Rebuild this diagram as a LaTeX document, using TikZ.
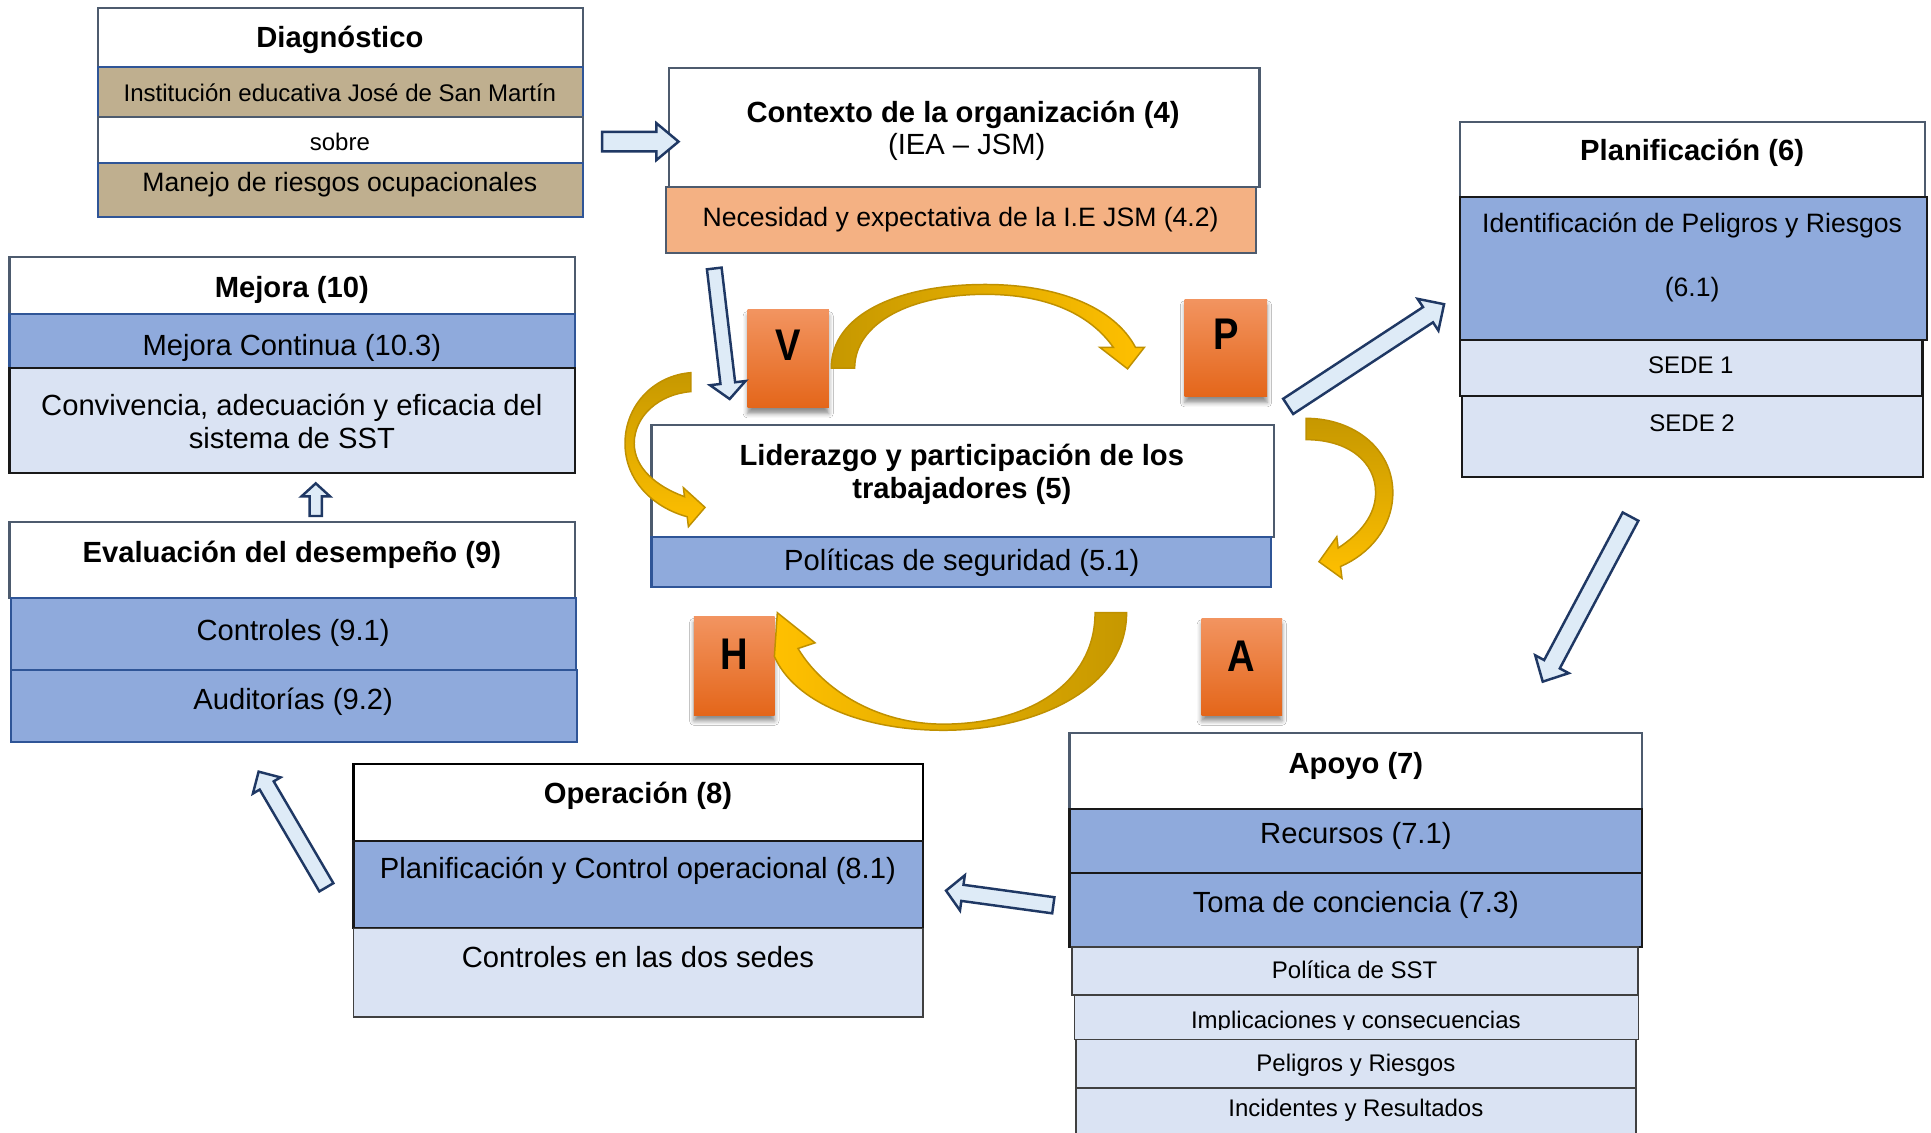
\documentclass[tikz,border=0pt]{standalone}
\usepackage{fontspec}
\usepackage{graphicx}
\setmainfont{Liberation Sans}
\usetikzlibrary{calc,shadows.blur}
\definecolor{slate}{HTML}{4D5B6E}
\definecolor{bluef}{HTML}{8FAADC}
\definecolor{blued}{HTML}{2F5597}
\definecolor{lightf}{HTML}{DAE3F3}
\definecolor{tanf}{HTML}{BFAF8F}
\definecolor{orgf}{HTML}{F4B183}
\definecolor{navy}{HTML}{1F3864}
\definecolor{arrf}{HTML}{DEEBF7}
\definecolor{goldD}{HTML}{C69800}
\definecolor{goldL}{HTML}{FFC000}
\definecolor{goldE}{HTML}{BF9000}
\definecolor{orgT}{HTML}{F29460}
\definecolor{orgB}{HTML}{E4661A}
\tikzset{
 cell/.style={rectangle, inner sep=0pt, outer sep=0pt, line width=0.9pt},
 titlecell/.style={cell, draw=slate, fill=white},
 titleblk/.style={cell, draw=black, fill=white},
 tancell/.style={cell, draw=blued, fill=tanf},
 orgcell/.style={cell, draw=slate, fill=orgf},
 bluecell/.style={cell, draw=blued, fill=bluef},
 blueblk/.style={cell, draw=black!90, fill=bluef},
 lightblk/.style={cell, draw=black!90, fill=lightf},
 lightthin/.style={cell, draw=black!75, fill=lightf, line width=0.65pt},
 big/.style={inner sep=0pt, font=\fontsize{11.85}{14}\selectfont, text height=8.5pt, text depth=0pt},
 bigb/.style={inner sep=0pt, font=\fontsize{11.85}{14}\selectfont\bfseries, text height=8.5pt, text depth=0pt},
 med/.style={inner sep=0pt, font=\fontsize{10.8}{13}\selectfont, text height=7.8pt, text depth=0pt},
 small/.style={inner sep=0pt, font=\fontsize{9.75}{12}\selectfont, text height=7pt, text depth=0pt},
 letter/.style={inner sep=0pt, font=\fontsize{18}{20}\selectfont\bfseries, text height=13pt, text depth=0pt},
 pdca/.style={rectangle, inner sep=0pt, outer sep=0pt, top color=orgT, bottom color=orgB,
   blur shadow={shadow xshift=0pt, shadow yshift=-2.4pt, shadow blur radius=1.8pt, shadow opacity=45}},
 blockarr/.style={draw=navy, fill=arrf, line width=1pt, line join=miter},
 goldarr/.style={draw=goldE, line width=0.6pt, line join=miter},
}
\newcommand{\cellbox}[6]{%
 \pgfmathsetmacro{\cellW}{(#5-#3)*0.5}%
 \pgfmathsetmacro{\cellH}{(#6-#4)*0.5}%
 \node[#2, minimum width=\cellW pt, minimum height=\cellH pt] (#1) at ({(#3+#5)/2},{(#4+#6)/2}) {};}
\newcommand{\blockarrow}[5]{%
 \coordinate (hb) at ($(#2)!#5!(#1)$);
 \draw[blockarr] ($(#1)!#3!90:(#2)$) -- ($(hb)!#3!-90:(#1)$) -- ($(hb)!#4!-90:(#1)$) -- (#2)
   -- ($(hb)!#4!90:(#1)$) -- ($(hb)!#3!90:(#1)$) -- ($(#1)!#3!-90:(#2)$) -- cycle;}
\begin{document}
\begin{tikzpicture}[x=0.5pt,y=-0.5pt]
\useasboundingbox (0,0) rectangle (1568,920);
\fill[white] (0,0) rectangle (1568,920);

% Diagnostico
\cellbox{diagT}{titlecell}{79.3}{6.8}{473.4}{54.7}
\cellbox{diagA}{tancell}{79.3}{54.7}{473.4}{94.7}
\cellbox{diagB}{titlecell}{79.3}{94.7}{473.4}{132.6}
\cellbox{diagC}{tancell}{79.3}{132.6}{473.4}{176.5}
\node[bigb] (tDiag) at (276,29.8) {Diagnóstico};
\node[small] (tIE) at (276,75.8) {Institución educativa José de San Martín};
\node[small] (tSobre) at (276,115) {sobre};
\node[med] (tMan) at (276,147.5) {Manejo de riesgos ocupacionales};

% Contexto
\cellbox{ctxT}{titlecell}{543}{55.5}{1022.7}{151.6}
\cellbox{ctxA}{orgcell}{540.6}{151.6}{1020}{205.2}
\node[bigb] (tCtx) at (782,90.7) {Contexto de la organización (4)};
\node[big] (tIEA) at (785,117) {(IEA – JSM)};
\node[med] (tNec) at (780,176.3) {Necesidad y expectativa de la I.E JSM (4.2)};

% Planificacion
\cellbox{plaT}{titlecell}{1185.5}{98.8}{1563}{159.7}
\cellbox{plaA}{blueblk}{1185.5}{159.7}{1564.5}{276}
\cellbox{plaB}{lightblk}{1185.5}{276}{1561}{321.6}
\cellbox{plaC}{lightblk}{1187}{321.6}{1561.7}{387.6}
\node[bigb] (tPlan) at (1374,121.8) {Planificación (6)};
\node[med] (tIdent) at (1374,181.3) {Identificación de Peligros y Riesgos};
\node[med] (tIdent2) at (1374,233) {(6.1)};
\node[small] (tS1) at (1373,296.4) {SEDE 1};
\node[small] (tS2) at (1374,343.7) {SEDE 2};

% Mejora
\cellbox{mejT}{titlecell}{7.8}{208.4}{466.8}{255}
\cellbox{mejA}{bluecell}{7.8}{255}{466.8}{299}
\cellbox{mejB}{lightblk}{7.8}{299}{466.8}{383.8}
\node[bigb] (tMej) at (237,232.8) {Mejora (10)};
\node[big] (tMC) at (237,280.5) {Mejora Continua (10.3)};
\node[big] (tConv1) at (237,328.9) {Convivencia, adecuación y eficacia del};
\node[big] (tConv2) at (237,356) {sistema de SST};

% Evaluacion
\cellbox{evaT}{titlecell}{7.8}{423.6}{466.8}{485.8}
\cellbox{evaA}{bluecell}{8.7}{485.8}{467.7}{544}
\cellbox{evaB}{bluecell}{8.7}{544}{468.6}{602.3}
\node[bigb] (tEval) at (237,448) {Evaluación del desempeño (9)};
\node[big] (tCtrl) at (238,511.6) {Controles (9.1)};
\node[big] (tAud) at (238,567.5) {Auditorías (9.2)};

% Liderazgo
\cellbox{lidT}{titlecell}{529}{345}{1034.5}{435.8}
\cellbox{lidA}{bluecell}{529}{435.8}{1032}{476.4}
\node[bigb] (tLid1) at (781,369.5) {Liderazgo y participación de los};
\node[bigb] (tLid2) at (781,396.5) {trabajadores (5)};
\node[big] (tPol) at (781,454.7) {Políticas de seguridad (5.1)};

% Operacion
\cellbox{opeT}{titleblk}{287}{620.4}{749.3}{682.6}
\cellbox{opeA}{blueblk}{287}{682.6}{749.3}{753.8}
\cellbox{opeB}{lightthin}{287}{753.8}{749.3}{825.6}
\node[bigb] (tOp) at (518,644.2) {Operación (8)};
\node[big] (tPC) at (518,705) {Planificación y Control operacional (8.1)};
\node[big] (tCds) at (518,776.8) {Controles en las dos sedes};

% Apoyo
\cellbox{apoT}{titlecell}{868.5}{595.5}{1333}{657.2}
\cellbox{apoA}{blueblk}{868.5}{657.2}{1333}{708.6}
\cellbox{apoB}{blueblk}{868.5}{708.6}{1333}{769.2}
\cellbox{apoC}{lightthin}{870.7}{769.2}{1330}{808}
\cellbox{apoD}{lightthin}{872.5}{808}{1330.6}{844}
\cellbox{apoE}{lightthin}{873.8}{844}{1328.5}{883.7}
\cellbox{apoF}{lightthin}{873.8}{883.7}{1328.5}{940}
\node[bigb] (tApo) at (1101,619.8) {Apoyo (7)};
\node[big] (tRec) at (1101,676.7) {Recursos (7.1)};
\node[big] (tToma) at (1101,732.2) {Toma de conciencia (7.3)};
\node[small] (tPSST) at (1100,787.7) {Política de SST};
\begin{scope}
\clip (872.5,808) rectangle (1330.6,835.6);
\node[small] (tImp) at (1101,828.3) {Implicaciones y consecuencias};
\end{scope}
\node[small] (tPel) at (1101,863.4) {Peligros y Riesgos};
\node[small] (tInc) at (1101,900) {Incidentes y Resultados};

% PDCA letter boxes
\cellbox{boxV}{pdca}{607}{251.7}{673}{331}
\cellbox{boxP}{pdca}{962}{243}{1029}{322}
\cellbox{boxH}{pdca}{563.5}{500.8}{629}{580.6}
\cellbox{boxA}{pdca}{975.7}{502}{1041}{580.6}
\node[letter] (lV) at (640,280) {\scalebox{0.86}[1]{V}};
\node[letter] (lP) at (995.5,270.7) {\scalebox{0.86}[1]{P}};
\node[letter] (lH) at (596,530.5) {\scalebox{0.86}[1]{H}};
\node[letter] (lA) at (1008,532) {\scalebox{0.86}[1]{A}};

% gold curved arrows
\draw[goldarr, left color=goldD, right color=goldL]
 (675,299) .. controls (675,255) and (730,231) .. (800,231)
 .. controls (860,231) and (905,250) .. (922,282)
 -- (929.3,282) -- (915.6,299.5) -- (893,282) -- (904,282)
 .. controls (885,255) and (850,239) .. (800,239)
 .. controls (740,239) and (694,262) .. (694,299) -- cycle;
\draw[goldarr, top color=goldD, bottom color=goldL]
 (1060.5,339.7) .. controls (1100,339.7) and (1131,365) .. (1131,400)
 .. controls (1131,428) and (1112,450) .. (1088.5,460)
 -- (1089.7,469.6) -- (1071,456.1) -- (1085.5,435.8) -- (1086.6,445)
 .. controls (1105,433) and (1117,418) .. (1117,400)
 .. controls (1117,375) and (1095,357) .. (1060.5,357) -- cycle;
\draw[goldarr, left color=goldL, right color=goldD]
 (914.8,497.5) .. controls (914.8,560) and (840,593) .. (766,593)
 .. controls (700,593) and (645,570) .. (628.8,533)
 -- (631.2,497.5) -- (661.8,522) -- (648,526.6)
 .. controls (668,560) and (712,588) .. (766,588)
 .. controls (835,588) and (889.2,555) .. (889.2,497.5) -- cycle;
\draw[goldarr, top color=goldD, bottom color=goldL]
 (561,302.6) .. controls (530,305) and (507.5,330) .. (507.5,360)
 .. controls (507.5,390) and (530,412) .. (558,419.6)
 -- (559,427.7) -- (572.5,412) -- (554.9,396) -- (555.8,403.3)
 .. controls (533,395) and (515,380) .. (515,360)
 .. controls (515,338) and (535,320) .. (561,318) -- cycle;

% block arrows
\coordinate (aDs) at (489,115); \coordinate (aDe) at (551,115);
\blockarrow{aDs}{aDe}{4pt}{7.5pt}{9pt}
\coordinate (aCs) at (580,218); \coordinate (aCe) at (592.5,324);
\blockarrow{aCs}{aCe}{3pt}{7.25pt}{6.5pt}
\coordinate (aPs) at (1046,330); \coordinate (aPe) at (1172.6,247);
\blockarrow{aPs}{aPe}{3.7pt}{7.7pt}{7.8pt}
\coordinate (aLs) at (1324,419.5); \coordinate (aLe) at (1252.7,553.5);
\blockarrow{aLs}{aLe}{3.6pt}{7.7pt}{8pt}
\coordinate (aAs) at (855.3,735.1); \coordinate (aAe) at (768.2,723.2);
\blockarrow{aAs}{aAe}{3.3pt}{7.2pt}{6.7pt}
\coordinate (aOs) at (265,720.5); \coordinate (aOe) at (210,626.6);
\blockarrow{aOs}{aOe}{3.3pt}{6.5pt}{6.5pt}
\coordinate (aEs) at (256.4,419); \coordinate (aEe) at (256.4,392.5);
\blockarrow{aEs}{aEe}{2.5pt}{5.75pt}{5.25pt}
\end{tikzpicture}
\end{document}
